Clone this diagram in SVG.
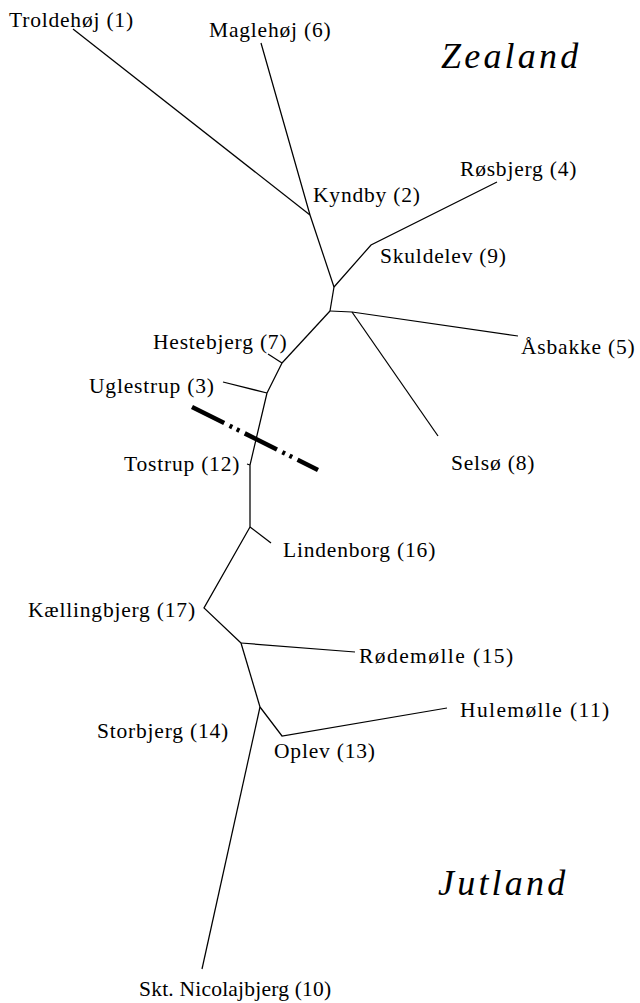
<svg xmlns="http://www.w3.org/2000/svg" width="640" height="1003" viewBox="0 0 640 1003">
<style>
.lbl{font-family:'Liberation Serif','DejaVu Serif',serif;font-size:21.5px;letter-spacing:0.8px;fill:#000}
.region{font-family:'Liberation Serif','DejaVu Serif',serif;font-size:36px;font-style:italic;letter-spacing:3.2px;fill:#000}
.edge{fill:none;stroke:#000;stroke-width:1.25;stroke-linejoin:miter}
.divide{fill:none;stroke:#000;stroke-width:4.5;stroke-dasharray:36 6 3 5 3 6}
</style>
<rect width="640" height="1003" fill="#fff"/>
<g id="connectors">
<path class="edge" d="M73,29 L310,215"/>
<path class="edge" d="M261,43 L310,215 L334,287"/>
<path class="edge" d="M334,287 L371,245 L497,182"/>
<path class="edge" d="M334,287 L330,311"/>
<path class="edge" d="M330,311 L352,312 L518,336"/>
<path class="edge" d="M352,312 L438,436"/>
<path class="edge" d="M330,311 L282,363"/>
<path class="edge" d="M282,363 L268,354"/>
<path class="edge" d="M282,363 L267,393"/>
<path class="edge" d="M267,393 L223,382"/>
<path class="edge" d="M267,393 L250,465 L250,527"/>
<path class="edge" d="M250,465 L247,464"/>
<path class="edge" d="M250,527 L271,543"/>
<path class="edge" d="M250,527 L204,608 L241,643"/>
<path class="edge" d="M241,643 L355,652"/>
<path class="edge" d="M241,643 L260,707"/>
<path class="edge" d="M260,707 L282,736 L447,708"/>
<path class="edge" d="M260,707 L202,969"/>
<path class="divide" d="M192,407 L318,470"/>
</g>
<g id="n1"><text class="lbl" x="9" y="27">Troldehøj (1)</text></g>
<g id="n6"><text class="lbl" x="209" y="37">Maglehøj (6)</text></g>
<g id="zealand"><text class="region" x="441" y="68">Zealand</text></g>
<g id="n2"><text class="lbl" x="313" y="202">Kyndby (2)</text></g>
<g id="n4"><text class="lbl" x="460" y="176">Røsbjerg (4)</text></g>
<g id="n9"><text class="lbl" x="380" y="263">Skuldelev (9)</text></g>
<g id="n7"><text class="lbl" x="153" y="349">Hestebjerg (7)</text></g>
<g id="n5"><text class="lbl" x="521" y="354">Åsbakke (5)</text></g>
<g id="n3"><text class="lbl" x="89" y="393">Uglestrup (3)</text></g>
<g id="n8"><text class="lbl" x="451" y="470">Selsø (8)</text></g>
<g id="n12"><text class="lbl" x="124" y="471">Tostrup (12)</text></g>
<g id="n16"><text class="lbl" x="283" y="557">Lindenborg (16)</text></g>
<g id="n17"><text class="lbl" x="28" y="617">Kællingbjerg (17)</text></g>
<g id="n15"><text class="lbl" x="359" y="663" textLength="155" lengthAdjust="spacing">Rødemølle (15)</text></g>
<g id="n11"><text class="lbl" x="460" y="717" textLength="150" lengthAdjust="spacing">Hulemølle (11)</text></g>
<g id="n14"><text class="lbl" x="97" y="738">Storbjerg (14)</text></g>
<g id="n13"><text class="lbl" x="274" y="758">Oplev (13)</text></g>
<g id="jutland"><text class="region" x="438" y="895">Jutland</text></g>
<g id="n10"><text class="lbl" x="139" y="996" textLength="193" lengthAdjust="spacing">Skt. Nicolajbjerg (10)</text></g>
</svg>
